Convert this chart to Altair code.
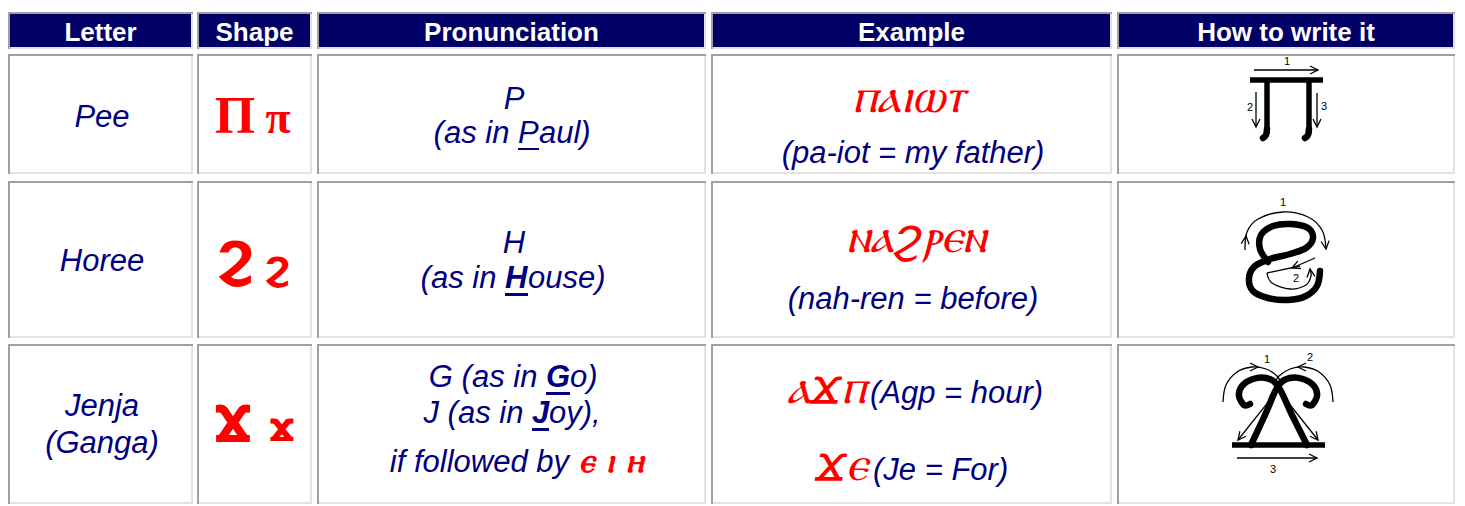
import math
import altair as alt
import pandas as pd

# ---------------- page / scale frame (screen pixel coordinates) ----------------
W, H = 1449, 498
xs = alt.Scale(domain=[8, 8 + W], nice=False, zero=False)
ys = alt.Scale(domain=[8, 8 + H], nice=False, zero=False, reverse=True)

# ---------------- table layout ----------------
col_left = [8, 197, 317, 711, 1117]
col_right = [193, 312, 706, 1112, 1455]
row_top = [12, 54, 181, 344]
row_bottom = [49, 174, 338, 504]
headers = ["Letter", "Shape", "Pronunciation", "Example", "How to write it"]

HEADER_FILL = "#000066"
NAVY = "#000080"
RED = "#ff0000"
DARK_EDGE = "#a0a0a0"
LIGHT_EDGE = "#e2e2e2"

# ---------------- text content ----------------
letter_names = ["Pee", "Horee", "Jenja", "(Ganga)"]
letter_x = [102, 102, 102, 102]
letter_y = [127, 271, 416, 453]

capital_letters = ["P", "H"]
capital_x = [514, 514]
capital_y = [109, 253]

meanings = ["(pa-iot = my father)", "(nah-ren = before)"]
meaning_x = [913, 913]
meaning_y = [163, 309]

# pronunciation lines split into pieces (regular-left / underlined letter / regular-right)
pron_left = ["(as in", "(as in", "G (as in", "J (as in"]
pron_mid = ["P", "H", "G", "J"]
pron_mid_bold = [False, True, True, True]
pron_right = ["aul)", "ouse)", "o)", "oy),"]
pron_split = [518, 505, 546, 532]
pron_mid_end = [539, 528, 570, 549]
pron_y = [143, 288, 387, 423]
space_w = 8.6

follow_text = "if followed by"
follow_coptic = "ⲉ ⲓ ⲏ"
follow_x = [569, 579]
follow_y = 472

coptic_words = ["ⲡⲁⲓⲱⲧ", "ⲛⲁϩⲣⲉⲛ"]
coptic_word_x = [908, 916]
coptic_word_y = [112, 252]

coptic_inline = ["ⲁϫⲡ", "ϫⲉ"]
inline_gloss = ["(Agp = hour)", "(Je = For)"]
inline_split_left = [866, 867]
inline_split_right = [870, 873]
inline_y = [403, 480]

shape_big = ["Π", "Ϩ", "Ϫ"]
shape_small = ["π", "ϩ", "ϫ"]
shape_big_x = [235, 235, 233]
shape_small_x = [278, 277, 282]
shape_big_y = [133, 277, 441]
shape_small_y = [133, 279, 441]

# ---------------- stroke-order drawings ----------------
thick_straight = {
    "pi_bar": [(1250, 80), (1323, 80)],
    "pi_legL": [(1267, 80), (1267, 133)],
    "pi_legR": [(1309, 80), (1309, 133)],
    "ja_base": [(1232, 445), (1325, 445)],
}
thick_curved = {
    "pi_footL": [(1267, 129), (1266, 135), (1263, 138)],
    "pi_footR": [(1309, 129), (1308, 135), (1305, 138)],
    "hori": [(1268, 262), (1260, 249), (1261, 235), (1273, 226), (1291, 224), (1308, 228),
             (1313, 238), (1306, 248), (1290, 254), (1270, 259), (1255, 266), (1249, 278),
             (1253, 291), (1268, 298), (1288, 300), (1306, 296), (1317, 286), (1320, 271)],
    "ja_1": [(1251, 445), (1265, 415), (1278, 386), (1290, 378), (1303, 379), (1314, 386),
             (1317, 396), (1312, 405), (1306, 404)],
    "ja_2": [(1307, 445), (1292, 415), (1278, 386), (1266, 378), (1253, 379), (1242, 386),
             (1239, 396), (1244, 405), (1250, 404)],
}
thin_curved = {
    "ho_arc1": [(1245, 250), (1247, 232), (1258, 219), (1283, 212), (1308, 217), (1322, 230), (1326, 248)],
    "ho_semi": [(1267, 273), (1272, 283), (1290, 289), (1306, 285), (1311, 276), (1310, 270)],
    "ja_arc1": [(1223, 402), (1226, 385), (1237, 372), (1252, 367), (1266, 369), (1277, 376), (1281, 383)],
    "ja_arc2": [(1333, 402), (1330, 385), (1319, 372), (1304, 367), (1290, 369), (1279, 376), (1275, 383)],
}
thin_straight = {
    "pi_a1": [(1254, 70), (1318, 70)],
    "pi_a2": [(1256, 92), (1256, 127)],
    "pi_a3": [(1317, 93), (1317, 127)],
    "ho_a2": [(1315, 258), (1292, 268)],
    "ho_chord": [(1267, 273), (1300, 266)],
    "ja_l1": [(1281, 386), (1238, 440)],
    "ja_l2": [(1275, 386), (1318, 440)],
    "ja_a3": [(1237, 458), (1317, 458)],
}
# arrow heads: (tip, point the arrow comes from)
arrow_heads = [
    ((1318, 70), (1254, 70)), ((1256, 127), (1256, 92)), ((1317, 127), (1317, 93)),
    ((1246, 236), (1245, 246)), ((1326, 249), (1325, 240)), ((1292, 268), (1315, 258)),
    ((1310, 269), (1311, 277)),
    ((1258, 367), (1250, 367)), ((1298, 367), (1306, 367)), ((1238, 440), (1281, 386)),
    ((1318, 440), (1275, 386)), ((1317, 458), (1237, 458)),
]
step_labels = ["1", "2", "3", "1", "2", "1", "2", "3"]
step_x = [1287, 1250, 1324, 1283, 1296, 1267, 1310, 1273]
step_y = [62, 108, 107, 203, 279, 360, 358, 470]


# ---------------- helpers ----------------
def X(f="x"):
    return alt.X(f, type="quantitative", scale=xs, axis=None)


def Y(f="y"):
    return alt.Y(f, type="quantitative", scale=ys, axis=None)


def head(tip, frm, L=8, wd=4):
    dx, dy = tip[0] - frm[0], tip[1] - frm[1]
    n = math.hypot(dx, dy)
    ux, uy = dx / n, dy / n
    bx, by = tip[0] - ux * L, tip[1] - uy * L
    px, py = -uy * wd, ux * wd
    return [(bx + px, by + py), tip, (bx - px, by - py)]


def paths_df(paths):
    rows = []
    for name, pts in paths.items():
        for k, p in enumerate(pts):
            rows.append({"g": name, "i": k, "x": p[0], "y": p[1]})
    return pd.DataFrame(rows)


def line_layer(paths, width, interp, cap):
    return alt.Chart(paths_df(paths)).mark_line(
        color="black", strokeWidth=width, interpolate=interp, strokeCap=cap
    ).encode(x=X(), y=Y(), detail="g:N", order="i:Q")


def text_layer(rows, size, color, align="center", weight="normal", style="normal",
               font="Liberation Sans", baseline="alphabetic"):
    return alt.Chart(pd.DataFrame(rows)).mark_text(
        font=font, fontSize=size, fontWeight=weight, fontStyle=style, color=color,
        align=align, baseline=baseline
    ).encode(x=X(), y=Y(), text="t:N")


def rect_layer(rows):
    return alt.Chart(pd.DataFrame(rows)).mark_rect().encode(
        x=X(), x2="x2:Q", y=Y(), y2="y2:Q", fill=alt.Fill("f:N", scale=None)
    )


# ---------------- cells & borders ----------------
cells, edges = [], []
for r in range(4):
    for c in range(5):
        l, rr, t, b = col_left[c], col_right[c], row_top[r], row_bottom[r]
        cells.append({"x": l, "x2": rr, "y": t, "y2": b, "f": HEADER_FILL if r == 0 else "white"})
        edges += [
            {"x": l, "x2": rr, "y": b - 2, "y2": b, "f": LIGHT_EDGE},
            {"x": rr - 2, "x2": rr, "y": t, "y2": b, "f": LIGHT_EDGE},
            {"x": l, "x2": rr, "y": t, "y2": t + 2, "f": DARK_EDGE},
            {"x": l, "x2": l + 2, "y": t, "y2": b, "f": DARK_EDGE},
        ]

layers = [rect_layer(cells), rect_layer(edges)]

# header text
layers.append(text_layer(
    [{"x": (col_left[c] + col_right[c]) / 2, "y": 41, "t": headers[c]} for c in range(5)],
    26, "white", weight="bold"))

# italic navy centred text
centred = [{"x": a, "y": b, "t": t} for t, a, b in zip(letter_names, letter_x, letter_y)]
centred += [{"x": a, "y": b, "t": t} for t, a, b in zip(capital_letters, capital_x, capital_y)]
centred += [{"x": a, "y": b, "t": t} for t, a, b in zip(meanings, meaning_x, meaning_y)]
layers.append(text_layer(centred, 31, NAVY, style="italic"))

# pronunciation pieces
layers.append(text_layer(
    [{"x": s - space_w, "y": y, "t": t} for t, s, y in zip(pron_left, pron_split, pron_y)]
    + [{"x": follow_x[0], "y": follow_y, "t": follow_text}],
    31, NAVY, align="right", style="italic"))
layers.append(text_layer(
    [{"x": e, "y": y, "t": t} for t, e, y in zip(pron_right, pron_mid_end, pron_y)]
    + [{"x": s, "y": y, "t": t} for t, s, y in zip(inline_gloss, inline_split_right, inline_y)],
    31, NAVY, align="left", style="italic"))
layers.append(text_layer(
    [{"x": s, "y": y, "t": t} for t, s, y, bo in zip(pron_mid, pron_split, pron_y, pron_mid_bold) if not bo],
    31, NAVY, align="left", style="italic"))
layers.append(text_layer(
    [{"x": s, "y": y, "t": t} for t, s, y, bo in zip(pron_mid, pron_split, pron_y, pron_mid_bold) if bo],
    31, NAVY, align="left", style="italic", weight="bold"))
# underlines
layers.append(rect_layer(
    [{"x": s, "x2": e, "y": y + 5, "y2": y + (7 if not bo else 8), "f": NAVY}
     for s, e, y, bo in zip(pron_split, pron_mid_end, pron_y, pron_mid_bold)]))

# coptic text
COPTIC_FONT = "DejaVu Sans"
layers.append(text_layer(
    [{"x": a, "y": b, "t": t} for t, a, b in zip(coptic_words, coptic_word_x, coptic_word_y)],
    48, RED, style="italic", font=COPTIC_FONT))
layers.append(text_layer(
    [{"x": a, "y": b, "t": t} for t, a, b in zip(coptic_inline, inline_split_left, inline_y)],
    48, RED, align="right", style="italic", font=COPTIC_FONT))
layers.append(text_layer(
    [{"x": follow_x[1], "y": follow_y, "t": follow_coptic}],
    34, RED, align="left", style="italic", weight="bold", font=COPTIC_FONT))

# shapes
layers.append(text_layer(
    [{"x": shape_big_x[0], "y": shape_big_y[0], "t": shape_big[0]}],
    52, RED, weight="bold", font="Liberation Serif"))
layers.append(text_layer(
    [{"x": shape_small_x[0], "y": shape_small_y[0], "t": shape_small[0]}],
    46, RED, weight="bold", font="Liberation Serif"))
layers.append(text_layer(
    [{"x": a, "y": b, "t": t} for t, a, b in zip(shape_big[1:], shape_big_x[1:], shape_big_y[1:])],
    50, RED, weight="bold", font="DejaVu Serif, DejaVu Sans"))
layers.append(text_layer(
    [{"x": a, "y": b, "t": t} for t, a, b in zip(shape_small[1:], shape_small_x[1:], shape_small_y[1:])],
    40, RED, weight="bold", font="DejaVu Serif, DejaVu Sans"))

# drawings
layers.append(line_layer(thick_straight, 5.5, "linear", "butt"))
layers.append(line_layer(thick_curved, 6.5, "cardinal", "round"))
layers.append(line_layer(thin_curved, 1.3, "cardinal", "butt"))
layers.append(line_layer(thin_straight, 1.3, "linear", "butt"))
layers.append(line_layer({f"h{k}": head(t, f) for k, (t, f) in enumerate(arrow_heads)}, 1.3, "linear", "butt"))
layers.append(text_layer(
    [{"x": a, "y": b, "t": t} for t, a, b in zip(step_labels, step_x, step_y)],
    11, "black", baseline="middle"))

chart = alt.layer(*layers).properties(
    width=W, height=H, padding=0, autosize="none", background="white"
).configure_view(strokeWidth=0)

chart.save("out.html", embed_options={"renderer": "svg", "actions": False})
